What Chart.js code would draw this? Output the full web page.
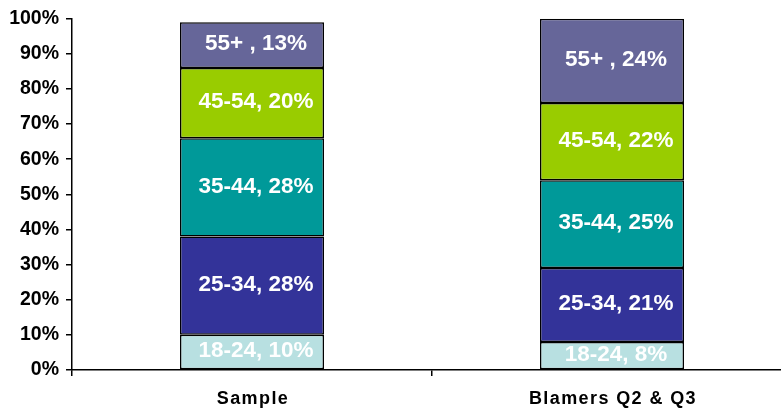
<!DOCTYPE html>
<html>
<head>
<meta charset="utf-8">
<script src="https://cdn.jsdelivr.net/npm/chart.js@4/dist/chart.umd.min.js"></script>
<style>
  html, body { margin: 0; padding: 0; background: #fff; overflow: hidden; }
  #wrap { position: absolute; left: 0; top: 0; width: 800px; height: 409px; }
</style>
</head>
<body>
<div id="wrap"><canvas id="c" width="800" height="409"></canvas></div>
<script>
// Age bands (bottom to top) and their share in each group, in percent
const categories = ['Sample', 'Blamers Q2 & Q3'];
const ageBands = ['18-24', '25-34', '35-44', '45-54', '55+ '];
const band1824 = [10, 8];
const band2534 = [28, 21];
const band3544 = [28, 25];
const band4554 = [20, 22];
const band55up = [13, 24];
const bandColors = ['#B8E0E1', '#333399', '#009999', '#99CC00', '#666699'];
const yTicks = [0, 10, 20, 30, 40, 50, 60, 70, 80, 90, 100];

const seriesValues = [band1824, band2534, band3544, band4554, band55up];

const datasets = ageBands.map((name, i) => ({
  label: name,
  data: seriesValues[i],
  backgroundColor: bandColors[i],
  borderColor: '#000',
  borderWidth: 1.5,
  borderSkipped: false,
  categoryPercentage: 1,
  barPercentage: 0.4
}));

// Writes "band, value%" in the middle of every segment
const segmentLabels = {
  id: 'segmentLabels',
  afterDatasetsDraw(chart) {
    const ctx = chart.ctx;
    ctx.save();
    ctx.font = 'bold 22.5px "Liberation Sans", Arial, sans-serif';
    ctx.fillStyle = '#fff';
    ctx.textAlign = 'center';
    ctx.textBaseline = 'middle';
    chart.data.datasets.forEach((ds, di) => {
      chart.getDatasetMeta(di).data.forEach((bar, j) => {
        const cy = (bar.y + bar.base) / 2;
        ctx.fillText(ds.label + ', ' + ds.data[j] + '%', bar.x + 4, cy - 1);
      });
    });
    ctx.restore();
  }
};

// Category names under the x axis, slightly letter-spaced
const categoryLabels = {
  id: 'categoryLabels',
  afterDraw(chart) {
    const ctx = chart.ctx;
    const xs = chart.scales.x;
    ctx.save();
    ctx.font = 'bold 18px "Liberation Sans", Arial, sans-serif';
    ctx.letterSpacing = '1.4px';
    ctx.fillStyle = '#000';
    ctx.textAlign = 'center';
    ctx.textBaseline = 'middle';
    chart.data.labels.forEach((lab, i) => {
      ctx.fillText(lab, xs.getPixelForTick(i) + 1, xs.bottom - 10);
    });
    ctx.restore();
  }
};

new Chart(document.getElementById('c'), {
  type: 'bar',
  data: { labels: categories, datasets },
  plugins: [segmentLabels, categoryLabels],
  options: {
    responsive: false,
    animation: false,
    layout: { padding: { top: 18, right: 8, left: 0, bottom: 0 } },
    plugins: { legend: { display: false }, tooltip: { enabled: false } },
    scales: {
      x: {
        stacked: true,
        grid: { display: true, drawOnChartArea: false, color: '#000', tickLength: 6, lineWidth: 1.5, offset: true },
        border: { display: true, color: '#000', width: 1.5 },
        ticks: { display: false },
        afterFit(s) { s.height = 39; }
      },
      y: {
        stacked: true,
        min: 0,
        max: 100,
        afterBuildTicks(s) { s.ticks = yTicks.map(v => ({ value: v })); },
        grid: { display: true, drawOnChartArea: false, color: '#000', tickLength: 6, lineWidth: 1.5 },
        border: { display: true, color: '#000', width: 1.5 },
        ticks: {
          color: '#000',
          padding: 7,
          font: { family: '"Liberation Sans", Arial, sans-serif', size: 19.5, weight: 'bold' },
          callback: v => v + '%'
        },
        afterFit(s) { s.width = 72; }
      }
    }
  }
});
</script>
</body>
</html>
